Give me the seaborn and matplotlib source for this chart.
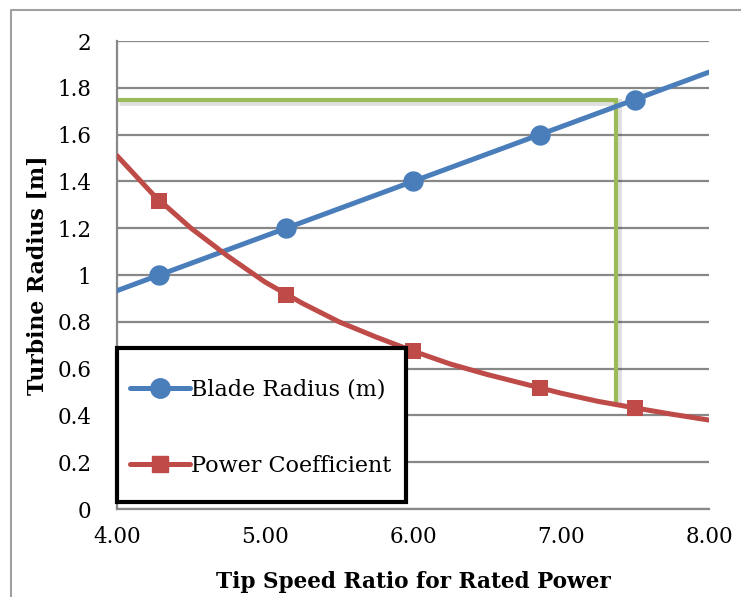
import matplotlib
matplotlib.use("Agg")
import matplotlib.pyplot as plt
import matplotlib.patheffects as pe
from matplotlib.lines import Line2D
from matplotlib.patches import Rectangle
import pandas as pd
import seaborn as sns

# Tip speed ratio at the design points (markers)
tsr_points = [4.286, 5.143, 6.0, 6.857, 7.5]
blade_radius = [1.0, 1.2, 1.4, 1.6, 1.75]
power_coef = [1.316, 0.915, 0.675, 0.517, 0.432]

# Blade radius line, spanning the whole axis
radius_line_x = [4.0, 4.286, 5.143, 6.0, 6.857, 7.5, 8.0]
radius_line_y = [0.933, 1.0, 1.2, 1.4, 1.6, 1.75, 1.867]

# Smoothed power coefficient curve
cp_line_x = [4.0, 4.25, 4.5, 4.75, 5.0, 5.25, 5.5, 5.75, 6.0,
             6.25, 6.5, 6.75, 7.0, 7.25, 7.5, 7.75, 8.0]
cp_line_y = [1.51, 1.34, 1.20, 1.08, 0.97, 0.88, 0.80, 0.735, 0.675,
             0.62, 0.575, 0.535, 0.495, 0.46, 0.432, 0.405, 0.38]

# Design-point guide: radius 1.75 m reached at TSR ~7.37
guide_x = [4.0, 7.37, 7.37]
guide_y = [1.75, 1.75, 0.45]

x_ticks = [4.0, 5.0, 6.0, 7.0, 8.0]
y_ticks = [0, 0.2, 0.4, 0.6, 0.8, 1.0, 1.2, 1.4, 1.6, 1.8, 2.0]

BLUE = "#4A7EBB"
RED = "#BE4B48"
GREEN = "#9BBB59"
GRID = "#888888"

sns.set_style("white")
plt.rcParams["font.family"] = ["DejaVu Serif"]
plt.rcParams["text.color"] = "black"
plt.rcParams["axes.labelcolor"] = "black"

fig = plt.figure(figsize=(7.41, 5.97), dpi=100)
ax = fig.add_axes([117 / 741, 1 - 509 / 597, (709 - 117) / 741, (509 - 41) / 597])

radius_df = pd.DataFrame({"tsr": radius_line_x, "r": radius_line_y})
cp_df = pd.DataFrame({"tsr": cp_line_x, "cp": cp_line_y})

# guide lines with a soft drop shadow
ax.plot(guide_x, guide_y, color=GREEN, lw=3.0, solid_joinstyle="miter",
        solid_capstyle="butt", zorder=2,
        path_effects=[pe.SimpleLineShadow(offset=(1.5, -2), shadow_color="#000000",
                                          alpha=0.12, linewidth=5),
                      pe.Normal()])

sns.lineplot(data=radius_df, x="tsr", y="r", color=BLUE, lw=3.6, ax=ax,
             zorder=3, sort=False)
sns.lineplot(data=cp_df, x="tsr", y="cp", color=RED, lw=3.6, ax=ax,
             zorder=3, sort=False)
sns.scatterplot(x=tsr_points, y=blade_radius, color=BLUE, marker="o", s=215,
                edgecolor=BLUE, linewidth=0, ax=ax, zorder=4)
sns.scatterplot(x=tsr_points, y=power_coef, color=RED, marker="s", s=120,
                edgecolor=RED, linewidth=0, ax=ax, zorder=4)

ax.set_xlim(4, 8)
ax.set_ylim(0, 2)
ax.set_xticks(x_ticks)
ax.set_xticklabels([f"{v:.2f}" for v in x_ticks])
ax.set_yticks(y_ticks)
ax.set_yticklabels([f"{v:g}" for v in y_ticks])
ax.grid(axis="y", color=GRID, lw=1.6)
ax.grid(axis="x", visible=False)
ax.set_axisbelow(True)

for s in ["top", "right"]:
    ax.spines[s].set_visible(False)
for s in ["left", "bottom"]:
    ax.spines[s].set_color(GRID)
    ax.spines[s].set_linewidth(1.6)
ax.tick_params(axis="both", direction="out", length=6.5, width=1.6, color=GRID,
               labelsize=15.5, labelcolor="black")
ax.tick_params(axis="y", pad=12)
ax.tick_params(axis="x", pad=6)

ax.set_xlabel("Tip Speed Ratio for Rated Power", fontsize=15.6, fontweight="bold",
              labelpad=16)
ax.set_ylabel("Turbine Radius [m]", fontsize=15.8, fontweight="bold", labelpad=6)

# legend: white box with heavy black border, entries laid inside it
ax.add_patch(Rectangle((0.0, 0.015), 0.488, 0.329, transform=ax.transAxes,
                       facecolor="white", edgecolor="black", lw=3.0,
                       joinstyle="miter", zorder=5, clip_on=False))
handles = [
    Line2D([], [], color=BLUE, lw=3.6, marker="o", markersize=14),
    Line2D([], [], color=RED, lw=3.6, marker="s", markersize=11),
]
leg = ax.legend(handles, ["Blade Radius (m)", "Power Coefficient"],
                loc="center left", bbox_to_anchor=(0.022, 0.174),
                fontsize=16, frameon=False, handlelength=2.7,
                handletextpad=0.05, labelspacing=2.45, borderpad=0,
                borderaxespad=0)
leg.set_zorder(6)

# outer chart-area border (left and top edges)
fig.add_artist(Line2D([10.5 / 741, 10.5 / 741, 1.0], [0.0, 1 - 9.5 / 597, 1 - 9.5 / 597],
                      color="#A0A0A0", lw=1.5, transform=fig.transFigure))

fig.savefig("out.png", dpi=100)
